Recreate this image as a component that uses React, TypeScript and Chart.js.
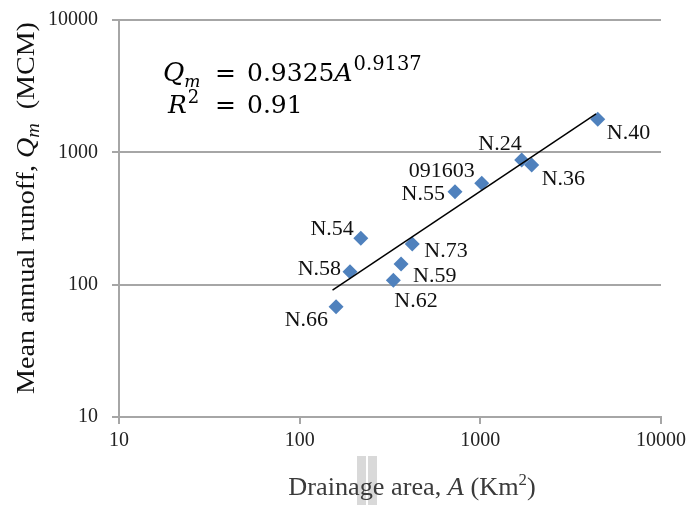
import React, { useEffect, useRef } from "react";
import { Chart, registerables } from "chart.js";

Chart.register(...registerables);

// ---- Data ----
const stations = ["N.40", "N.24", "N.36", "091603", "N.55", "N.54", "N.73", "N.58", "N.59", "N.62", "N.66"];
const drainageArea = [4467, 1694, 1924, 1018, 724, 218, 420, 190, 364, 330, 159]; // Km²
const meanRunoff = [1778, 875, 802, 583, 504, 224, 203, 125, 143, 108, 68]; // MCM
const trendArea = [152, 4370];
const trendRunoff = [91, 1950];
const axisTicks = [10, 100, 1000, 10000];

// label placement relative to the marker (style only)
const labelPlacement: Record<string, { align: CanvasTextAlign; dx: number; dy: number }> = {
  "N.40": { align: "left", dx: 9, dy: 13 },
  "N.24": { align: "right", dx: 0, dy: -17 },
  "N.36": { align: "left", dx: 10, dy: 13 },
  "091603": { align: "right", dx: -7, dy: -13 },
  "N.55": { align: "right", dx: -10, dy: 1 },
  "N.54": { align: "right", dx: -7, dy: -10 },
  "N.73": { align: "left", dx: 12, dy: 6 },
  "N.58": { align: "right", dx: -9, dy: -4 },
  "N.59": { align: "left", dx: 12, dy: 11 },
  "N.62": { align: "left", dx: 1, dy: 20 },
  "N.66": { align: "right", dx: -8, dy: 12 },
};

const SERIF = '"Liberation Serif", "Times New Roman", serif';
const MATH = '"DejaVu Serif", serif';
const GRID = "#a6a6a6";

type Seg = { text: string; font: string; dy?: number };

function segWidth(ctx: CanvasRenderingContext2D, segs: Seg[]) {
  let w = 0;
  for (const s of segs) {
    ctx.font = s.font;
    w += ctx.measureText(s.text).width;
  }
  return w;
}

function drawSegs(ctx: CanvasRenderingContext2D, segs: Seg[], x: number, y: number) {
  let cx = x;
  for (const s of segs) {
    ctx.font = s.font;
    ctx.fillText(s.text, cx, y + (s.dy || 0));
    cx += ctx.measureText(s.text).width;
  }
  return cx;
}

const overlayPlugin = {
  id: "overlay",
  afterDraw(chart: any) {
    const ctx: CanvasRenderingContext2D = chart.ctx;
    ctx.save();
    ctx.textBaseline = "alphabetic";

    // point labels
    const meta = chart.getDatasetMeta(1);
    ctx.fillStyle = "#111";
    ctx.font = `22px ${SERIF}`;
    meta.data.forEach((pt: any, i: number) => {
      const name = stations[i];
      const p = labelPlacement[name];
      ctx.textAlign = p.align;
      ctx.fillText(name, pt.x + p.dx, pt.y + p.dy + 7);
    });
    ctx.textAlign = "left";

    // equation
    ctx.fillStyle = "#000";
    const big = `25px ${MATH}`;
    const bigI = `italic 25px ${MATH}`;
    let x = drawSegs(ctx, [{ text: "Q", font: `italic 26px ${MATH}` }], 163, 81);
    drawSegs(ctx, [{ text: "m", font: `italic 17px ${MATH}` }], x, 87);
    drawSegs(ctx, [{ text: "=", font: big }], 215, 81);
    x = drawSegs(ctx, [{ text: "0.9325", font: big }, { text: "A", font: bigI }], 247, 81);
    drawSegs(ctx, [{ text: "0.9137", font: `19.5px ${MATH}` }], x + 1, 70);

    x = drawSegs(ctx, [{ text: "R", font: bigI }], 168, 113);
    drawSegs(ctx, [{ text: "2", font: `18px ${MATH}` }], x + 1, 103);
    drawSegs(ctx, [{ text: "=", font: big }], 215, 113);
    drawSegs(ctx, [{ text: "0.91", font: big }], 247, 113);

    // grey artefact behind x title
    ctx.fillStyle = "#d9d9d9";
    ctx.fillRect(357, 456, 9, 49);
    ctx.fillRect(368, 456, 9, 49);

    const t = `25px ${SERIF}`;
    const tI = `italic 25px ${SERIF}`;

    // x axis title (slightly widened to match)
    ctx.fillStyle = "#3a3a3a";
    const xSegs: Seg[] = [
      { text: "Drainage area, ", font: t },
      { text: "A", font: tI },
      { text: " (Km", font: t },
      { text: "2", font: `16px ${SERIF}`, dy: -10 },
      { text: ")", font: t },
    ];
    const sx = 1.05;
    const xw = segWidth(ctx, xSegs) * sx;
    ctx.save();
    ctx.translate(412 - xw / 2, 495);
    ctx.scale(sx, 1);
    drawSegs(ctx, xSegs, 0, 0);
    ctx.restore();

    // y axis title
    ctx.fillStyle = "#111";
    const ySegs: Seg[] = [
      { text: "Mean annual runoff, ", font: t },
      { text: "Q", font: tI },
      { text: "m", font: `italic 18px ${SERIF}`, dy: 5 },
      { text: "  (MCM)", font: t },
    ];
    const sy = 1.12;
    const yw = segWidth(ctx, ySegs) * sy;
    ctx.save();
    ctx.translate(34, 208);
    ctx.rotate(-Math.PI / 2);
    ctx.translate(-yw / 2, 0);
    ctx.scale(sy, 1);
    drawSegs(ctx, ySegs, 0, 0);
    ctx.restore();

    ctx.restore();
  },
};

export default function App() {
  const canvasRef = useRef<HTMLCanvasElement | null>(null);

  useEffect(() => {
    if (!canvasRef.current) return;
    const chart = new Chart(canvasRef.current, {
      type: "scatter",
      data: {
        datasets: [
          {
            label: "Trend",
            data: trendArea.map((a, i) => ({ x: a, y: trendRunoff[i] })),
            showLine: true,
            borderColor: "#000",
            borderWidth: 1.5,
            pointRadius: 0,
            order: 0,
          },
          {
            label: "Stations",
            data: drainageArea.map((a, i) => ({ x: a, y: meanRunoff[i] })),
            pointStyle: "rectRot",
            pointRadius: 7.5,
            pointHoverRadius: 7.5,
            backgroundColor: "#4F81BD",
            borderColor: "#4F81BD",
            borderWidth: 0,
            order: 1,
          },
        ],
      },
      options: {
        animation: false,
        responsive: true,
        maintainAspectRatio: false,
        layout: { padding: { top: 20, right: 30, left: 0, bottom: 0 } },
        plugins: {
          legend: { display: false },
          tooltip: { enabled: false },
          title: { display: false },
        },
        scales: {
          x: {
            type: "logarithmic",
            min: 10,
            max: 10000,
            afterBuildTicks: (s: any) => {
              s.ticks = axisTicks.map((v) => ({ value: v }));
            },
            afterFit: (s: any) => {
              s.height = 88;
              s.paddingLeft = 0;
              s.paddingRight = 0;
            },
            ticks: {
              callback: (v: any) => String(v),
              font: { family: SERIF, size: 20 },
              color: "#222",
              padding: 5,
              maxRotation: 0,
              autoSkip: false,
            },
            grid: {
              drawOnChartArea: false,
              drawTicks: true,
              tickLength: 7,
              color: GRID,
              lineWidth: 2,
            },
            border: { display: true, color: GRID, width: 2 },
          },
          y: {
            type: "logarithmic",
            min: 10,
            max: 10000,
            afterBuildTicks: (s: any) => {
              s.ticks = axisTicks.map((v) => ({ value: v }));
            },
            afterFit: (s: any) => {
              s.width = 119;
              s.paddingTop = 0;
              s.paddingBottom = 0;
            },
            ticks: {
              callback: (v: any) => String(v),
              font: { family: SERIF, size: 20 },
              color: "#222",
              padding: 14,
              autoSkip: false,
            },
            grid: {
              drawOnChartArea: true,
              drawTicks: true,
              tickLength: 7,
              color: GRID,
              lineWidth: 2,
            },
            border: { display: true, color: GRID, width: 2 },
          },
        },
      },
      plugins: [overlayPlugin],
    });
    return () => chart.destroy();
  }, []);

  return (
    <div style={{ position: "fixed", left: 0, top: 0, width: 691, height: 505, background: "#fff" }}>
      <canvas ref={canvasRef} />
    </div>
  );
}
